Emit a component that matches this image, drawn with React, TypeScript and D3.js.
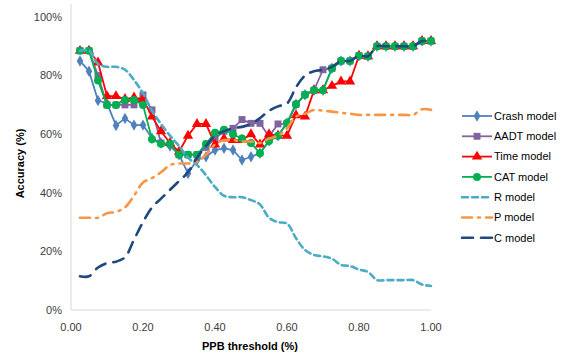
import React from "react";
import * as d3 from "d3";

const thresholds = [
  0.025, 0.05, 0.075, 0.1, 0.125, 0.15, 0.175, 0.2, 0.225, 0.25,
  0.275, 0.3, 0.325, 0.35, 0.375, 0.4, 0.425, 0.45, 0.475, 0.5,
  0.525, 0.55, 0.575, 0.6, 0.625, 0.65, 0.675, 0.7, 0.725, 0.75,
  0.775, 0.8, 0.825, 0.85, 0.875, 0.9, 0.925, 0.95, 0.975, 1.0,
];

const crashModel = [
  85, 81.5, 71.5, 70.5, 63, 65.4, 63.1, 63.1, 58.6, 57,
  56, 53, 46.6, 51.2, 52.3, 54.6, 55.2, 54.6, 51.2, 52.3,
  53.5, 57.7, 59.5, 63.8, 70.2, 73.5, 75, 75, 82.5, 85,
  85, 86.8, 86.6, 90, 90, 90, 90, 90, 91.8, 91.8,
];

const aadtModel = [
  88.5, 88.5, 80, 70, 70, 70, 70, 73.4, 68.3, 57,
  56.7, 53, 53, 53, 55.5, 58.5, 61, 62, 65, 63.7,
  63.7, 59.2, 63.5, 63.5, 70.2, 73.5, 75, 82, 82.5, 85,
  85, 86.8, 86.6, 90, 90, 90, 90, 90, 91.8, 91.8,
];

const timeModel = [
  88.5, 88.5, 84.5, 73, 73, 72, 72.5, 72, 66, 61,
  57, 54, 59.5, 63.5, 63.5, 56.5, 58.5, 58, 58, 60,
  56.5, 60, 59.5, 59.5, 66.5, 66, 75, 75, 76.5, 78,
  78, 86.8, 86.6, 90, 90, 90, 90, 90, 91.8, 91.8,
];

const catModel = [
  88.5, 88.5, 78.3, 70, 70, 71.7, 71.7, 70, 58.3, 56.7,
  56.7, 53, 53, 53, 56.7, 60.5, 61.5, 60, 58.5, 57,
  53.5, 57.7, 59.5, 63.8, 70.2, 73.5, 75, 75, 82.5, 85,
  85, 86.8, 86.6, 90, 90, 90, 90, 90, 91.8, 91.8,
];

const rModel = [
  88.5, 88.5, 84, 83, 83, 82, 78.5, 74, 68, 63.5,
  59.5, 56, 52, 49.5, 46, 42, 39, 38.5, 38.5, 37.5,
  36, 31.5, 30, 29.5, 24.5, 20.5, 18.8, 18.3, 17.5, 15.4,
  15, 13.8, 13, 10.2, 10.2, 10.2, 10.2, 10.2, 8.7, 8.2,
];

const pModel = [
  31.5, 31.5, 31.5, 33, 33.5, 35, 39, 43.5, 45, 47,
  49.5, 50, 50, 50.5, 53, 56.5, 58, 58, 57.5, 57.5,
  57, 58.5, 59.5, 62, 66, 67, 68.3, 68, 67.7, 67.3,
  67, 66.6, 66.6, 66.6, 66.6, 66.6, 66.6, 66.6, 68.5, 68.3,
];

const cModel = [
  11.5, 11.5, 14.5, 16, 16.5, 18, 24, 30, 35, 38,
  41, 44, 47, 52, 56, 59.5, 61, 62, 62.5, 63.5,
  65.5, 68, 69.5, 70.5, 76, 80, 81.5, 82, 83, 85,
  85, 86.8, 86.6, 90, 90, 90, 90, 90, 91.8, 91.8,
];

const xTicks = [0, 0.2, 0.4, 0.6, 0.8, 1.0];
const yTicks = [0, 20, 40, 60, 80, 100];

type Marker = "diamond" | "square" | "triangle" | "circle" | null;

interface Series {
  name: string;
  values: number[];
  color: string;
  marker: Marker;
  dash: string | null;
  smooth: boolean;
  width: number;
}

const series: Series[] = [
  { name: "Crash model", values: crashModel, color: "#4F81BD", marker: "diamond", dash: null, smooth: false, width: 1.8 },
  { name: "AADT model", values: aadtModel, color: "#8064A2", marker: "square", dash: null, smooth: false, width: 1.8 },
  { name: "Time model", values: timeModel, color: "#FF0000", marker: "triangle", dash: null, smooth: false, width: 1.8 },
  { name: "CAT model", values: catModel, color: "#00B050", marker: "circle", dash: null, smooth: false, width: 1.8 },
  { name: "R model", values: rModel, color: "#4BACC6", marker: null, dash: "6,4", smooth: true, width: 2.6 },
  { name: "P model", values: pModel, color: "#F79646", marker: null, dash: "10,6,2,6", smooth: true, width: 2.6 },
  { name: "C model", values: cModel, color: "#1F497D", marker: null, dash: "11,8", smooth: true, width: 2.6 },
];

const W = 571;
const H = 356;
const plot = { left: 71, right: 431, top: 17, bottom: 310 };
const FONT = "'Liberation Sans', Arial, sans-serif";

const symbolType: Record<string, d3.SymbolType> = {
  diamond: d3.symbolDiamond,
  square: d3.symbolSquare,
  triangle: d3.symbolTriangle,
  circle: d3.symbolCircle,
};
const symbolSize: Record<string, number> = {
  diamond: 38,
  square: 48,
  triangle: 46,
  circle: 50,
};

function MarkerShape({ kind, color, x, y }: { kind: Marker; color: string; x: number; y: number }) {
  if (!kind) return null;
  const path = d3.symbol().type(symbolType[kind]).size(symbolSize[kind])() || "";
  return <path d={path} transform={`translate(${x},${y})`} fill={color} />;
}

export default function App() {
  const x = d3.scaleLinear().domain([0, 1]).range([plot.left, plot.right]);
  const y = d3.scaleLinear().domain([0, 100]).range([plot.bottom, plot.top]);

  const straight = d3
    .line<number>()
    .x((_, i) => x(thresholds[i]))
    .y((d) => y(d));
  const smooth = d3
    .line<number>()
    .x((_, i) => x(thresholds[i]))
    .y((d) => y(d))
    .curve(d3.curveCatmullRom.alpha(0.5));

  const legendX = 462;
  const legendY0 = 116;
  const legendStep = 20.3;

  return (
    <svg width={W} height={H} style={{ position: "absolute", left: 0, top: 0 }} fontFamily={FONT}>
      <rect width={W} height={H} fill="#ffffff" />

      {/* axes */}
      <line x1={plot.left} x2={plot.left} y1={4} y2={plot.bottom} stroke="#D9D9D9" strokeWidth={1} />
      <line x1={plot.left} x2={plot.right} y1={plot.bottom} y2={plot.bottom} stroke="#D9D9D9" strokeWidth={1} />

      {yTicks.map((t) => (
        <text key={`y${t}`} x={62} y={y(t)} dy="0.35em" textAnchor="end" fontSize={11} fill="#404040">
          {`${t}%`}
        </text>
      ))}
      {xTicks.map((t) => (
        <text key={`x${t}`} x={x(t)} y={327} dy="0.35em" textAnchor="middle" fontSize={11} fill="#404040">
          {t.toFixed(2)}
        </text>
      ))}

      <text x={250} y={346} dy="0.35em" textAnchor="middle" fontSize={11} fontWeight="bold" fill="#000">
        PPB threshold (%)
      </text>
      <text
        transform={`translate(20,${(plot.top + plot.bottom) / 2}) rotate(-90)`}
        dy="0.35em"
        textAnchor="middle"
        fontSize={11}
        fontWeight="bold"
        fill="#000"
      >
        Accuracy (%)
      </text>

      {/* series */}
      {series.map((s) => (
        <g key={s.name}>
          <path
            d={(s.smooth ? smooth : straight)(s.values) || ""}
            fill="none"
            stroke={s.color}
            strokeWidth={s.width}
            strokeDasharray={s.dash || undefined}
            strokeLinecap={s.dash ? "round" : "butt"}
            strokeLinejoin="round"
          />
          {s.marker &&
            s.values.map((v, i) => (
              <MarkerShape key={i} kind={s.marker} color={s.color} x={x(thresholds[i])} y={y(v)} />
            ))}
        </g>
      ))}

      {/* legend */}
      {series.map((s, i) => {
        const ly = legendY0 + i * legendStep;
        return (
          <g key={`lg${s.name}`}>
            <line
              x1={legendX}
              x2={legendX + 30}
              y1={ly}
              y2={ly}
              stroke={s.color}
              strokeWidth={s.width}
              strokeDasharray={s.dash || undefined}
              strokeLinecap={s.dash ? "round" : "butt"}
            />
            <MarkerShape kind={s.marker} color={s.color} x={legendX + 15} y={ly} />
            <text x={legendX + 32} y={ly} dy="0.35em" fontSize={11} fill="#000">
              {s.name}
            </text>
          </g>
        );
      })}
    </svg>
  );
}
